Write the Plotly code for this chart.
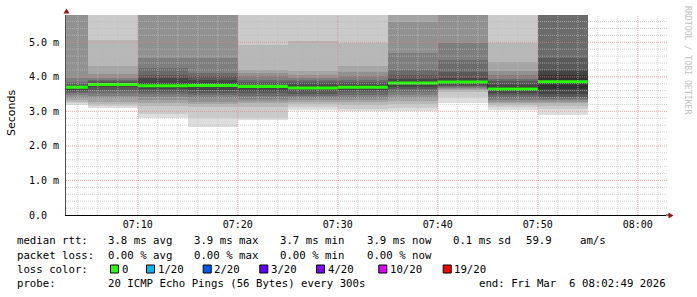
import plotly.graph_objects as go
import pandas as pd

# ---------------- data ----------------
DAY = "2026-03-06"
graph_start = "07:02:49"
graph_end = "08:02:49"
col_start = ["07:00", "07:05", "07:10", "07:15", "07:20", "07:25",
             "07:30", "07:35", "07:40", "07:45", "07:50"]
step_seconds = 300

# sorted 20 ping rtts (ms) per 5-minute step
pings_0700 = [3.18, 3.24, 3.30, 3.34, 3.40, 3.46, 3.52, 3.58, 3.63, 3.68, 3.72, 3.76, 3.80, 3.84, 3.96, 6.1, 6.5, 7.0, 8.0, 10.0]
pings_0705 = [3.11, 3.16, 3.22, 3.28, 3.38, 3.45, 3.52, 3.63, 3.70, 3.76, 3.80, 3.84, 3.88, 3.92, 3.97, 4.07, 4.30, 5.08, 6.5, 9.0]
pings_0710 = [2.82, 2.91, 3.15, 3.24, 3.34, 3.43, 3.50, 3.57, 3.64, 3.70, 3.78, 3.96, 4.04, 4.26, 4.55, 6.0, 6.4, 7.0, 8.0, 10.0]
pings_0715 = [2.56, 2.82, 3.14, 3.22, 3.28, 3.38, 3.46, 3.54, 3.62, 3.71, 3.79, 3.90, 4.01, 4.10, 4.54, 6.0, 6.4, 7.0, 8.0, 10.0]
pings_0720 = [2.75, 2.82, 3.14, 3.26, 3.30, 3.36, 3.44, 3.52, 3.60, 3.69, 3.75, 3.79, 3.84, 3.92, 4.02, 4.10, 4.21, 4.92, 6.5, 9.0]
pings_0725 = [3.05, 3.12, 3.20, 3.26, 3.32, 3.38, 3.44, 3.50, 3.58, 3.65, 3.71, 3.79, 3.85, 3.91, 3.97, 4.06, 4.16, 5.03, 6.5, 9.0]
pings_0730 = [3.02, 3.08, 3.18, 3.26, 3.34, 3.40, 3.48, 3.56, 3.62, 3.67, 3.73, 3.80, 3.86, 3.92, 4.02, 4.15, 4.31, 4.98, 6.5, 9.0]
pings_0735 = [3.00, 3.10, 3.20, 3.30, 3.40, 3.48, 3.56, 3.64, 3.72, 3.79, 3.85, 3.94, 4.06, 4.20, 4.68, 5.60, 6.1, 6.5, 7.5, 10.0]
pings_0740 = [3.23, 3.43, 3.58, 3.62, 3.66, 3.70, 3.73, 3.75, 3.78, 3.82, 3.88, 3.96, 4.15, 4.50, 4.97, 6.0, 6.4, 7.0, 8.0, 10.0]
pings_0745 = [3.03, 3.12, 3.18, 3.24, 3.30, 3.35, 3.40, 3.46, 3.52, 3.59, 3.70, 3.80, 3.88, 3.95, 4.05, 4.16, 4.44, 4.98, 6.5, 9.0]
pings_0750 = [2.89, 3.06, 3.15, 3.24, 3.30, 3.34, 3.38, 3.43, 3.50, 3.66, 4.06, 4.20, 4.55, 6.0, 6.3, 6.6, 7.0, 7.5, 8.5, 10.0]

y_tick_values = [0, 1, 2, 3, 4, 5]
y_tick_labels = ["0.0\u00a0\u00a0", "1.0 m", "2.0 m", "3.0 m", "4.0 m", "5.0 m"]
x_tick_times = ["07:10", "07:20", "07:30", "07:40", "07:50", "08:00"]

stat_rtt = ["3.8 ms avg", "3.9 ms max", "3.7 ms min", "3.9 ms now", "0.1 ms sd", "59.9", "am/s"]
stat_loss = ["0.00 % avg", "0.00 % max", "0.00 % min", "0.00 % now"]
loss_labels = ["0", "1/20", "2/20", "3/20", "4/20", "10/20", "19/20"]
loss_colors = ["#26ff00", "#00b8ff", "#0059ff", "#5e00ff", "#7e00ff", "#dd00ff", "#ff0000"]
probe_text = "20 ICMP Echo Pings (56 Bytes) every 300s"
end_text = "end: Fri Mar\u00a0\u00a06 08:02:49 2026"

# ---------------- styles / layout ----------------
W, H = 697, 297
L, T = 66, 15
PW, PH = 600, 200
YMAX = 5.79
MONO = "DejaVu Sans Mono"

band_colors = ["#dddddd", "#cacaca", "#b7b7b7", "#a4a4a4", "#919191",
               "#7e7e7e", "#6b6b6b", "#585858", "#454545", "#323232"]


def px(x):
    return (x - L) / PW


def py(y):
    return (T + PH - y) / PH


columns = [pings_0700, pings_0705, pings_0710, pings_0715, pings_0720, pings_0725,
           pings_0730, pings_0735, pings_0740, pings_0745, pings_0750]
starts = pd.to_datetime([f"{DAY} {t}" for t in col_start])
step = pd.Timedelta(seconds=step_seconds)
centers = starts + step / 2
ends = starts + step
t0 = pd.Timestamp(f"{DAY} {graph_start}")
t1 = pd.Timestamp(f"{DAY} {graph_end}")

fig = go.Figure()

# smoke: segment between k-th and (k+1)-th sorted ping gets the gray of its band
n = len(pings_0700)
for k in range(n - 1):
    lo = [c[k] for c in columns]
    hi = [c[k + 1] for c in columns]
    fig.add_trace(go.Bar(
        x=centers, y=[h - l for h, l in zip(hi, lo)], base=lo, width=step_seconds * 1000,
        marker=dict(color=band_colors[min(k, n - 2 - k)], line=dict(width=0), opacity=1),
        hoverinfo="skip", showlegend=False))

# median
med = [(c[9] + c[10]) / 2 for c in columns]
fig.add_trace(go.Scatter(
    x=list(starts) + [ends[-1]], y=med + [med[-1]], mode="lines",
    line=dict(color="#202020", width=1, shape="hv"), hoverinfo="skip", showlegend=False))
gx, gy = [], []
for s, e, m in zip(starts, ends, med):
    gx += [s, e, None]
    gy += [m, m, None]
fig.add_trace(go.Scatter(x=gx, y=gy, mode="lines",
                         line=dict(color=loss_colors[0], width=3),
                         hoverinfo="skip", showlegend=False))

shapes = []
MINOR = "rgba(190,190,190,0.7)"
MAJOR = "rgba(222,135,135,0.7)"
DASH = "1px,1px"
# vertical grid
gt = pd.Timestamp(f"{DAY} 07:04")
while gt <= t1:
    major = (gt.minute % 10 == 0)
    shapes.append(dict(type="line", xref="x", yref="paper", x0=gt, x1=gt, y0=0, y1=1,
                       line=dict(color=MAJOR if major else MINOR, width=1, dash=DASH), layer="above"))
    gt += pd.Timedelta(minutes=2)
# horizontal grid
for k in range(1, int(YMAX / 0.2) + 1):
    v = round(k * 0.2, 2)
    major = abs(v - round(v)) < 1e-9
    shapes.append(dict(type="line", xref="paper", yref="y", x0=0, x1=px(L + PW + 2), y0=v, y1=v,
                       line=dict(color=MAJOR if major else MINOR, width=1, dash=DASH), layer="above"))

# axis extension + arrows
ARROW = "#a01010"
shapes.append(dict(type="line", xref="paper", yref="paper", x0=1, x1=px(L + PW + 3), y0=0, y1=0,
                   line=dict(color="#000000", width=1), layer="above"))
shapes.append(dict(type="path", xref="paper", yref="paper",
                   path=f"M {px(668.5)} {py(212.5)} L {px(673.5)} {py(215.5)} L {px(668.5)} {py(218.5)} Z",
                   fillcolor=ARROW, line=dict(width=0), layer="above"))
shapes.append(dict(type="path", xref="paper", yref="paper",
                   path=f"M {px(63.5)} {py(13.5)} L {px(66.5)} {py(8.5)} L {px(69.5)} {py(13.5)} Z",
                   fillcolor=ARROW, line=dict(width=0), layer="above"))

annotations = []


def txt(x, y, s, size=10.7, family=MONO, color="#000000", **kw):
    d = dict(xref="paper", yref="paper", x=px(x), y=py(y), text=s, showarrow=False,
             xanchor="left", yanchor="middle", font=dict(family=family, size=size, color=color),
             borderpad=0)
    d.update(kw)
    annotations.append(d)


# y axis title
annotations.append(dict(xref="paper", yref="paper", x=px(11), y=py(113), text="Seconds",
                        textangle=-90, showarrow=False, xanchor="center", yanchor="middle",
                        font=dict(family="DejaVu Sans", size=11, color="#000000")))
# watermark
annotations.append(dict(xref="paper", yref="paper", x=px(688), y=py(60),
                        text="RRDTOOL / TOBI OETIKER", textangle=90, showarrow=False,
                        xanchor="center", yanchor="middle",
                        font=dict(family=MONO, size=8.2, color="#c0c0c0")))

col_x = [107.3, 193.3, 279.3, 366.0, 451.7, 525.0, 579.3]
LINE_Y = [240.5, 255.0, 269.0, 283.5]
txt(16, LINE_Y[0], "median rtt:")
for s, x in zip(stat_rtt, col_x):
    txt(x, LINE_Y[0], s)
txt(16, LINE_Y[1], "packet loss:")
for s, x in zip(stat_loss, col_x):
    txt(x, LINE_Y[1], s)
txt(16, LINE_Y[2], "loss color:")
box_x = [110.0, 146.0, 202.7, 259.3, 316.0, 378.3, 442.7]
for lab, colr, bx in zip(loss_labels, loss_colors, box_x):
    shapes.append(dict(type="rect", xref="paper", yref="paper",
                       x0=px(bx + 0.5), x1=px(bx + 8.5), y0=py(LINE_Y[2] - 4), y1=py(LINE_Y[2] + 4),
                       fillcolor=colr, line=dict(color="#000000", width=1)))
    txt(bx + 10.5, LINE_Y[2], lab)
txt(16, LINE_Y[3], "probe:")
txt(107.3, LINE_Y[3], probe_text)
txt(478.3, LINE_Y[3], end_text)

fig.update_layout(
    template="none",
    width=W, height=H,
    margin=dict(l=L, r=W - L - PW, t=T, b=H - T - PH, pad=0),
    paper_bgcolor="#ffffff", plot_bgcolor="#ffffff",
    font=dict(family=MONO, color="#000000"),
    barmode="overlay", bargap=0,
    showlegend=False,
    shapes=shapes, annotations=annotations,
    xaxis=dict(type="date", range=[t0, t1], showgrid=False, zeroline=False,
               showline=True, linecolor="#000000", linewidth=1, ticks="",
               tickvals=[pd.Timestamp(f"{DAY} {t}") for t in x_tick_times],
               ticktext=x_tick_times, ticklabelstandoff=0,
               tickfont=dict(family=MONO, size=10, color="#000000")),
    yaxis=dict(range=[0, YMAX], showgrid=False, zeroline=False,
               showline=True, linecolor="#505050", linewidth=1, ticks="",
               tickvals=y_tick_values, ticktext=y_tick_labels, ticklabelstandoff=4,
               tickfont=dict(family=MONO, size=10, color="#000000")),
)

fig.write_html("out.html")
